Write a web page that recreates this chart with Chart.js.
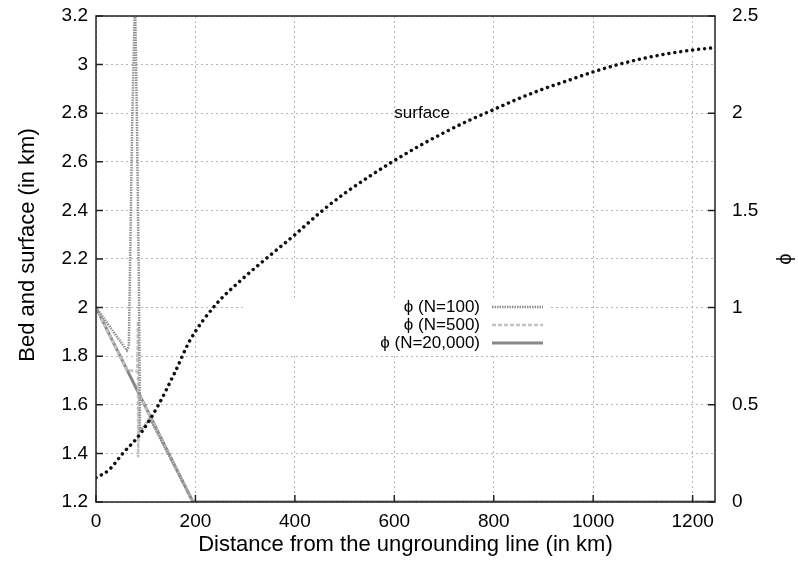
<!DOCTYPE html>
<html>
<head>
<meta charset="utf-8">
<script src="https://cdn.jsdelivr.net/npm/chart.js@4/dist/chart.umd.min.js"></script>
<style>
  html, body { margin: 0; padding: 0; background: #fff; }
  #wrap { width: 798px; height: 562px; }
</style>
</head>
<body>
<div id="wrap"><canvas id="chart"></canvas></div>
<script>
// tick values
const xTicks = [0, 200, 400, 600, 800, 1000, 1200];
const bedTicks = [1.2, 1.4, 1.6, 1.8, 2, 2.2, 2.4, 2.6, 2.8, 3, 3.2];
const phiTicks = [0, 0.5, 1, 1.5, 2, 2.5];

// surface elevation (km) vs distance (km)
const surfaceKm   = [0, 25, 54, 89, 123, 159, 189, 240, 290, 350, 400, 450, 500, 550, 600, 650, 700, 750, 800, 850, 900, 950, 1000, 1050, 1100, 1150, 1200, 1245];
const surfaceElev = [1.30, 1.33, 1.40, 1.48, 1.59, 1.735, 1.865, 2.01, 2.11, 2.215, 2.30, 2.39, 2.47, 2.54, 2.605, 2.665, 2.72, 2.77, 2.815, 2.86, 2.90, 2.935, 2.97, 3.00, 3.025, 3.045, 3.06, 3.07];

// phi for the three resolutions
const phi100Km = [0, 62, 66, 67.5, 72.5, 78.5, 82.6, 86.6, 88.5, 94, 108, 195, 1245];
const phi100   = [1.0, 0.78, 0.80, 1.04, 1.91, 2.6, 1.91, 1.04, 0.37, 0.38, 0.43, 0, 0];

const phi500Km = [0, 62, 83, 84.3, 84.8, 87, 195, 1245];
const phi500   = [1.0, 0.68, 0.67, 0.93, 0.23, 0.55, 0, 0];

const phi20kKm = [0, 195, 1245];
const phi20k   = [1.0, 0, 0];

const legendLabels = ['\u03D5 (N=100)', '\u03D5 (N=500)', '\u03D5 (N=20,000)'];

function toPoints(xs, ys) {
    return xs.map((x, i) => ({ x: x, y: ys[i] }));
}

const FONT = "'Liberation Sans', Arial, Helvetica, sans-serif";

function noPad(s) {
    s.paddingTop = 0;
    s.paddingBottom = 0;
    s.paddingLeft = 0;
    s.paddingRight = 0;
}

const gnuplotExtras = {
    id: 'gnuplotExtras',
    beforeDatasetsDraw(chart) {
        // legend box hides the grid behind it
        const ctx = chart.ctx;
        ctx.save();
        ctx.fillStyle = '#fff';
        ctx.fillRect(245, 298, 305, 57);
        ctx.restore();
    },
    afterDatasetsDraw(chart) {
        const ctx = chart.ctx;
        const a = chart.chartArea;
        const xs = chart.scales.x, yl = chart.scales.y, yr = chart.scales.y2;

        ctx.save();
        // frame
        ctx.strokeStyle = '#222';
        ctx.lineWidth = 1.5;
        ctx.strokeRect(a.left, a.top, a.right - a.left, a.bottom - a.top);

        // inward tick marks
        ctx.beginPath();
        xs.ticks.forEach(t => {
            const px = xs.getPixelForValue(t.value);
            ctx.moveTo(px, a.bottom);
            ctx.lineTo(px, a.bottom - 7);
        });
        yl.ticks.forEach(t => {
            const py = yl.getPixelForValue(t.value);
            ctx.moveTo(a.left, py);
            ctx.lineTo(a.left + 7, py);
        });
        yr.ticks.forEach(t => {
            const py = yr.getPixelForValue(t.value);
            ctx.moveTo(a.right, py);
            ctx.lineTo(a.right - 7, py);
        });
        ctx.stroke();

        // left axis title
        ctx.fillStyle = '#000';
        ctx.save();
        ctx.translate(28, 245);
        ctx.rotate(-Math.PI / 2);
        ctx.font = '22px ' + FONT;
        ctx.textAlign = 'center';
        ctx.textBaseline = 'middle';
        ctx.fillText('Bed and surface (in km)', 0, 0);
        ctx.restore();

        // 'surface' label
        ctx.font = '17px ' + FONT;
        ctx.textAlign = 'left';
        ctx.textBaseline = 'middle';
        ctx.fillText('surface', xs.getPixelForValue(600), yl.getPixelForValue(2.8));

        // legend: right-aligned text with sample lines
        const rows = [307, 325, 343];
        [1, 2, 3].forEach((di, i) => {
            const ds = chart.data.datasets[di];
            ctx.fillStyle = '#000';
            ctx.textAlign = 'right';
            ctx.fillText(legendLabels[i], 480, rows[i]);
            ctx.beginPath();
            ctx.strokeStyle = ds.borderColor;
            ctx.lineWidth = ds.borderWidth;
            ctx.setLineDash(ds.borderDash || []);
            ctx.moveTo(492, rows[i]);
            ctx.lineTo(543, rows[i]);
            ctx.stroke();
        });
        ctx.restore();
    }
};

const ctx = document.getElementById('chart').getContext('2d');
new Chart(ctx, {
    type: 'line',
    data: {
        datasets: [
            {
                label: 'surface',
                data: toPoints(surfaceKm, surfaceElev),
                yAxisID: 'y',
                borderColor: '#111',
                borderWidth: 3.5,
                borderDash: [0.01, 6],
                borderCapStyle: 'round',
                cubicInterpolationMode: 'monotone',
                pointRadius: 0
            },
            {
                label: legendLabels[0],
                data: toPoints(phi100Km, phi100),
                yAxisID: 'y2',
                borderColor: '#909090',
                borderWidth: 2.5,
                borderDash: [1.5, 1],
                tension: 0,
                pointRadius: 0
            },
            {
                label: legendLabels[1],
                data: toPoints(phi500Km, phi500),
                yAxisID: 'y2',
                borderColor: '#c2c2c2',
                borderWidth: 2.5,
                borderDash: [4, 2],
                tension: 0,
                pointRadius: 0
            },
            {
                label: legendLabels[2],
                data: toPoints(phi20kKm, phi20k),
                yAxisID: 'y2',
                borderColor: '#888',
                borderWidth: 3,
                tension: 0,
                pointRadius: 0
            }
        ]
    },
    options: {
        responsive: true,
        maintainAspectRatio: false,
        animation: false,
        layout: { padding: { top: 16, left: 0, right: 0, bottom: 0 } },
        plugins: {
            legend: { display: false },
            tooltip: { enabled: false }
        },
        scales: {
            x: {
                type: 'linear',
                min: 0,
                max: 1245,
                afterBuildTicks: s => { s.ticks = xTicks.map(v => ({ value: v })); },
                afterFit: s => { s.height = 60; noPad(s); },
                grid: { color: '#b5b5b5', drawTicks: false },
                border: { display: false, dash: [2, 3] },
                ticks: {
                    color: '#000', padding: 8, font: { family: FONT, size: 19 },
                    callback: v => String(v)
                },
                title: {
                    display: true,
                    text: 'Distance from the ungrounding line (in km)',
                    color: '#000',
                    font: { family: FONT, size: 22 },
                    padding: { top: 1 }
                }
            },
            y: {
                position: 'left',
                min: 1.2,
                max: 3.2,
                afterBuildTicks: s => { s.ticks = bedTicks.map(v => ({ value: v })); },
                afterFit: s => { s.width = 96; noPad(s); },
                grid: { color: '#b5b5b5', drawTicks: false },
                border: { display: false, dash: [2, 3] },
                ticks: {
                    color: '#000', padding: 8, font: { family: FONT, size: 19 },
                    callback: v => String(Number(v.toFixed(1)))
                }
            },
            y2: {
                position: 'right',
                min: 0,
                max: 2.5,
                afterBuildTicks: s => { s.ticks = phiTicks.map(v => ({ value: v })); },
                afterFit: s => { s.width = 83; noPad(s); },
                grid: { drawOnChartArea: false, drawTicks: false },
                border: { display: false },
                ticks: {
                    color: '#000', padding: 17, font: { family: FONT, size: 19 },
                    callback: v => String(v)
                },
                title: {
                    display: true,
                    text: '\u03D5',
                    color: '#000',
                    font: { family: FONT, size: 20 },
                    padding: { top: 0 }
                }
            }
        }
    },
    plugins: [gnuplotExtras]
});
</script>
</body>
</html>
